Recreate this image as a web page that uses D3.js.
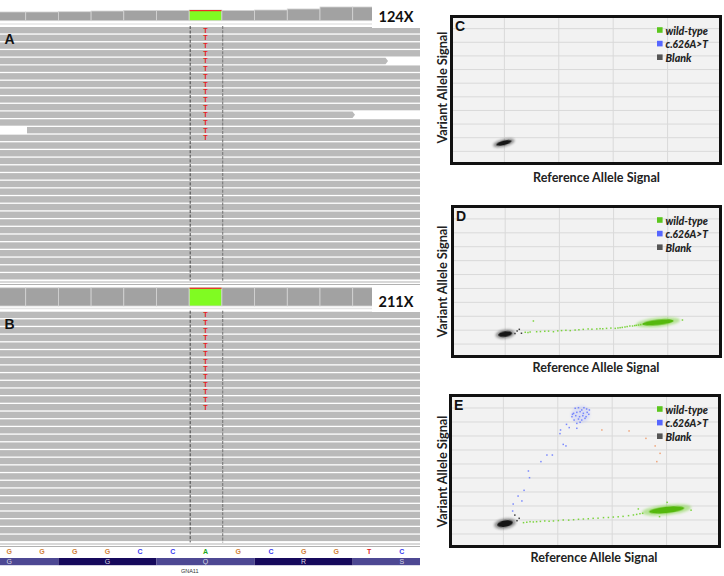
<!DOCTYPE html>
<html><head><meta charset="utf-8">
<script src="https://cdn.jsdelivr.net/npm/d3@7"></script>
<style>body{margin:0;background:#fff}svg{display:block}</style>
</head><body>
<svg id="c" width="724" height="576"></svg>
<script>
// ---------------- data ----------------
const bases = ["G","G","G","G","C","C","A","G","C","G","G","T","C"];
const aminoAcids = ["G","G","Q","R","S"];
const codonStarts = [-1,2,5,8,11];
const geneName = "GNA11";
const coverageA = [101,101,104,112,119,119,124,119,124,136,159,159,159];
const coverageB = [210,210,210,211,211,211,211,211,211,211,211,211,211];
const depthLabels = ["124X","211X"];
const igvLetters = ["A","B"];
const variantBase = 6;
const variantAllele = "T";
const variantRowsA = 15;
const variantRowsB = 13;
// reads: [start, end] in base units (-1 / 14 = beyond view)
const readsA = [[-1,14],[-1,14],[-1,14],[-1,14],[-1,12.08],[-1,14],[-1,14],[-1,14],[-1,14],[-1,14],[-1,14],
  [-1,11.07],[-1,14],[1.04,14],[-1,14],[-1,14],[-1,14],[-1,14],[-1,14],[-1,14],[-1,14],[-1,14],
  [-1,14],[-1,14],[-1,14],[-1,14],[-1,14],[-1,14],[-1,14],[-1,14],[-1,14],[-1,14],[-1,14]];
const readsB = [[-1,14],[-1,14],[-1,14],[-1,14],[-1,14],[-1,14],[-1,14],[-1,14],[-1,14],[-1,14],
  [-1,14],[-1,14],[-1,14],[-1,14],[-1,14],[-1,14],[-1,14],[-1,14],[-1,14],[-1,14],
  [-1,14],[-1,14],[-1,14],[-1,14],[-1,14],[-1,14],[-1,14],[-1,14],[-1,14],[-1,14]];

// scatter panels
const scatterLetters = ["C","D","E"];
const legendLabels = ["wild-type","c.626A>T","Blank"];
const xTicks = [1,2,3,4];
const yTicks = [1,2,3,4,5,6,7,8,9,10];
const xAxisTitle = "Reference Allele Signal";
const yAxisTitle = "Variant Allele Signal";
// clusters: [group, x, y, rx, ry, angle]
const clustersC = [["Blank",0.99,1.62,0.17,0.22,-14]];
const clustersD = [["Blank",1.0,1.72,0.15,0.26,-8],["wild-type",3.82,2.56,0.34,0.27,-6]];
const clustersE = [["Blank",1.03,1.74,0.17,0.3,-10],["wild-type",4.0,2.72,0.38,0.3,-6],["c.626A>T",2.42,9.55,0.15,0.5,-20]];
// individual points: [group, x, y]
const pointsD = [
 ["wild-type",1.37,1.85],["wild-type",1.42,1.83],["wild-type",1.46,1.87],["wild-type",1.58,1.89],["wild-type",1.65,1.9],
 ["wild-type",1.73,1.92],["wild-type",1.80,1.93],["wild-type",1.89,1.89],["wild-type",1.97,1.95],["wild-type",2.04,1.97],
 ["wild-type",2.12,1.99],["wild-type",2.20,1.97],["wild-type",2.29,2.01],["wild-type",2.36,2.03],["wild-type",2.44,2.06],
 ["wild-type",2.53,2.09],["wild-type",2.60,2.07],["wild-type",2.69,2.09],["wild-type",2.75,2.11],["wild-type",2.80,2.10],
 ["wild-type",2.87,2.13],["wild-type",2.95,2.15],["wild-type",3.03,2.13],["wild-type",3.08,2.16],["wild-type",3.12,2.18],
 ["wild-type",3.16,2.20],["wild-type",3.21,2.23],["wild-type",3.25,2.26],["wild-type",3.30,2.30],["wild-type",3.35,2.30],
 ["wild-type",3.39,2.33],["wild-type",3.42,2.35],["wild-type",3.46,2.37],["wild-type",3.50,2.40],["wild-type",3.55,2.42],
 ["wild-type",1.52,2.66],["wild-type",4.27,2.73],
 ["Blank",1.22,1.94],["Blank",1.26,2.06],["Blank",1.30,1.78],["Blank",1.18,1.76]
];
const pointsE = [
 ["wild-type",1.37,1.81],["wild-type",1.43,1.84],["wild-type",1.49,1.88],["wild-type",1.55,1.86],["wild-type",1.61,1.88],
 ["wild-type",1.68,1.90],["wild-type",1.76,1.93],["wild-type",1.84,1.91],["wild-type",1.92,1.93],["wild-type",2.01,1.96],
 ["wild-type",2.10,2.00],["wild-type",2.20,1.99],["wild-type",2.29,2.02],["wild-type",2.38,2.05],["wild-type",2.47,2.07],
 ["wild-type",2.56,2.09],["wild-type",2.65,2.12],["wild-type",2.74,2.13],["wild-type",2.84,2.17],["wild-type",2.93,2.18],
 ["wild-type",3.02,2.21],["wild-type",3.11,2.23],["wild-type",3.20,2.26],["wild-type",3.30,2.31],["wild-type",3.39,2.36],
 ["wild-type",3.45,2.40],["wild-type",3.51,2.45],["wild-type",3.56,2.48],["wild-type",3.48,2.79],["wild-type",4.01,3.26],
 ["wild-type",3.87,2.24],["wild-type",4.45,2.70],
 ["c.626A>T",1.17,2.64],["c.626A>T",1.18,3.14],["c.626A>T",1.34,3.36],["c.626A>T",1.27,3.71],["c.626A>T",1.38,4.12],
 ["c.626A>T",1.48,5.02],["c.626A>T",1.46,5.50],["c.626A>T",1.69,6.17],["c.626A>T",1.80,6.64],["c.626A>T",1.90,6.64],
 ["c.626A>T",2.10,7.40],["c.626A>T",2.15,7.29],["c.626A>T",2.04,8.17],["c.626A>T",2.05,8.43],["c.626A>T",2.16,8.83],
 ["c.626A>T",2.21,8.60],["c.626A>T",2.35,8.55],
 ["c.626A>T",2.32,9.98],["c.626A>T",2.38,10.02],["c.626A>T",2.48,10.02],["c.626A>T",2.53,9.93],["c.626A>T",2.58,9.86],
 ["c.626A>T",2.29,9.62],["c.626A>T",2.35,9.69],["c.626A>T",2.41,9.74],["c.626A>T",2.47,9.62],["c.626A>T",2.54,9.69],
 ["c.626A>T",2.26,9.38],["c.626A>T",2.33,9.45],["c.626A>T",2.40,9.38],["c.626A>T",2.46,9.45],["c.626A>T",2.52,9.38],
 ["c.626A>T",2.30,9.14],["c.626A>T",2.38,9.21],["c.626A>T",2.44,9.14],["c.626A>T",2.50,9.26],["c.626A>T",2.35,8.90],
 ["c.626A>T",2.41,8.98],["c.626A>T",2.27,9.55],["c.626A>T",2.57,9.55],["c.626A>T",2.44,9.86],
 ["other",2.81,8.43],["other",3.31,8.36],["other",3.62,7.83],["other",3.79,7.29],["other",3.88,6.76],["other",3.82,6.17],
 ["Blank",1.29,2.12],["Blank",1.25,1.95],["Blank",1.21,2.35]
];

// ---------------- styling ----------------
const baseColors = {G:"#d1813a", C:"#3a3af0", A:"#1fa81f", T:"#e02020"};
const groupColors = {"wild-type":"#6fd02a","c.626A>T":"#6476ff","Blank":"#2a2a2a","other":"#ee9a6a"};
const coreColors = {"wild-type":"#55b80c","c.626A>T":"#5a6bff","Blank":"#141414"};
const legendColors = {"wild-type":"#5cc61e","c.626A>T":"#5666ff","Blank":"#555555"};

const svg = d3.select("#c");
const defs = svg.append("defs");
defs.append("filter").attr("id","blur").attr("x","-50%").attr("y","-50%").attr("width","200%").attr("height","200%")
  .append("feGaussianBlur").attr("stdDeviation",0.7);
defs.append("filter").attr("id","blur2").attr("x","-50%").attr("y","-50%").attr("width","200%").attr("height","200%")
  .append("feGaussianBlur").attr("stdDeviation",1.3);
defs.append("clipPath").attr("id","leftclip").append("rect").attr("x",0).attr("y",0).attr("width",420).attr("height",576);

// ---------------- IGV panel ----------------
const xb = d3.scaleLinear().domain([0,13]).range([-7,418.1]);
const left = svg.append("g").attr("clip-path","url(#leftclip)");
const pitch = 7.69, readH = 6.4;

function igvBlock(cfg){
  const g = left.append("g");
  const cov = d3.scaleLinear().domain([0,cfg.covMax]).range([0,cfg.covH]);
  g.selectAll("rect.cov").data(cfg.coverage).join("rect")
    .attr("x",(d,i)=>xb(i)).attr("width",xb(1)-xb(0))
    .attr("y",d=>cfg.covBottom-cov(d)).attr("height",d=>cov(d))
    .attr("fill",(d,i)=>i===variantBase?"#80fb22":"#a2a2a2")
    .attr("stroke","#d4d4d4").attr("stroke-width",0.8);
  g.append("rect").attr("x",xb(variantBase)+0.4).attr("width",xb(1)-xb(0)-0.8)
    .attr("y",cfg.covBottom-cov(cfg.coverage[variantBase])).attr("height",1.2).attr("fill","#f02a2a");
  g.append("line").attr("x1",0).attr("x2",420).attr("y1",cfg.sepY).attr("y2",cfg.sepY)
    .attr("stroke","#e4e4e4").attr("stroke-width",1.5);
  cfg.reads.forEach((r,i)=>{
    const y = cfg.readTop + i*pitch;
    const x0 = Math.max(-2, xb(r[0])), x1 = Math.min(430, xb(r[1]));
    if (r[1] < 13.5) {
      g.append("path").attr("d",`M${x0},${y}H${x1-2.5}L${x1},${y+readH/2}L${x1-2.5},${y+readH}H${x0}Z`).attr("fill","#bababa");
    } else {
      g.append("rect").attr("x",x0).attr("y",y).attr("width",x1-x0).attr("height",readH).attr("fill","#bababa");
    }
  });
  const readBottom = cfg.readTop + cfg.reads.length*pitch;
  g.append("line").attr("x1",xb(variantBase)+1).attr("x2",xb(variantBase)+1)
    .attr("y1",cfg.readTop-1).attr("y2",readBottom).attr("stroke","#3a3a3a").attr("stroke-width",0.9).attr("stroke-dasharray","3,1.6");
  g.append("line").attr("x1",xb(variantBase+1)+0.8).attr("x2",xb(variantBase+1)+0.8)
    .attr("y1",cfg.readTop-1).attr("y2",readBottom).attr("stroke","#7a7a7a").attr("stroke-width",1.1).attr("stroke-dasharray","3,1.2");
  g.selectAll("text.var").data(d3.range(cfg.variantRows)).join("text")
    .attr("x",xb(variantBase+0.5)).attr("y",d=>cfg.readTop + d*pitch + readH/2)
    .attr("text-anchor","middle").attr("dominant-baseline","central")
    .attr("font-family","Liberation Sans, Arial, sans-serif").attr("font-weight","bold").attr("font-size",7.2)
    .attr("fill","#e8201e").text(variantAllele);
  g.append("rect").attr("x",372).attr("y",cfg.boxY0).attr("width",50).attr("height",cfg.boxH).attr("fill","#fff");
  g.append("text").attr("x",396).attr("y",cfg.labelY).attr("text-anchor","middle").attr("dominant-baseline","central")
    .attr("font-family","Lato, sans-serif").attr("font-weight","bold").attr("font-size",14.5).attr("fill","#111").text(cfg.depth);
  g.append("text").attr("x",4.5).attr("y",cfg.letterY).attr("dominant-baseline","central")
    .attr("font-family","Liberation Sans, Arial, sans-serif").attr("font-weight","bold").attr("font-size",14).attr("fill","#111").text(cfg.letter);
  return readBottom;
}

igvBlock({coverage:coverageA, covMax:124, covH:10.7, covBottom:20.7, sepY:24, reads:readsA, readTop:27,
  variantRows:variantRowsA, boxY0:0, boxH:28, labelY:16, depth:depthLabels[0], letter:igvLetters[0], letterY:39});
[282,284.5].forEach(y=>left.append("line").attr("x1",0).attr("x2",420).attr("y1",y).attr("y2",y).attr("stroke","#a8a8a8").attr("stroke-width",0.9));
igvBlock({coverage:coverageB, covMax:211, covH:18.3, covBottom:306, sepY:308.5, reads:readsB, readTop:311.7,
  variantRows:variantRowsB, boxY0:287, boxH:25, labelY:301, depth:depthLabels[1], letter:igvLetters[1], letterY:324});
[544,546.5].forEach(y=>left.append("line").attr("x1",0).attr("x2",420).attr("y1",y).attr("y2",y).attr("stroke","#a8a8a8").attr("stroke-width",0.9));

left.selectAll("text.base").data(bases).join("text")
  .attr("x",(d,i)=>xb(i+0.5)).attr("y",551.8).attr("text-anchor","middle").attr("dominant-baseline","central")
  .attr("font-family","Liberation Sans, Arial, sans-serif").attr("font-weight","bold").attr("font-size",7)
  .attr("fill",d=>baseColors[d]).text(d=>d);
left.selectAll("rect.aa").data(aminoAcids).join("rect")
  .attr("x",(d,i)=>xb(codonStarts[i])).attr("width",xb(3)-xb(0)).attr("y",558).attr("height",7.2)
  .attr("fill",(d,i)=>i%2===0?"#4d4893":"#16095c");
left.selectAll("text.aa").data(aminoAcids).join("text")
  .attr("x",(d,i)=>xb(codonStarts[i]+1.5)).attr("y",561.7).attr("text-anchor","middle").attr("dominant-baseline","central")
  .attr("font-family","Liberation Sans, Arial, sans-serif").attr("font-size",7).attr("fill","#d8d8e4").text(d=>d);
left.append("text").attr("x",xb(variantBase)+0.5).attr("y",571).attr("text-anchor","middle").attr("dominant-baseline","central")
  .attr("font-family","Liberation Sans, Arial, sans-serif").attr("font-size",5.5).attr("fill","#333").text(geneName);

// ---------------- scatter panels ----------------
const panelBoxes = [
  {x0:450,y0:15,x1:722,y1:165, xt:596.5, xty:176.7, yty:87.5, clusters:clustersC, points:[]},
  {x0:451,y0:205,x1:722,y1:358, xt:596, xty:367.3, yty:281.5, clusters:clustersD, points:pointsD},
  {x0:449,y0:394,x1:721,y1:548, xt:594, xty:556.7, yty:471.5, clusters:clustersE, points:pointsE}
];
panelBoxes.forEach((p,pi)=>{
  const g = svg.append("g");
  const x = d3.scaleLinear().domain([0,5]).range([p.x0,p.x1]);
  const y = d3.scaleLinear().domain([0,11]).range([p.y1,p.y0]);
  g.append("rect").attr("x",p.x0).attr("y",p.y0).attr("width",p.x1-p.x0).attr("height",p.y1-p.y0).attr("fill","#f2f2f2");
  g.selectAll("line.vx").data(xTicks).join("line").attr("x1",d=>x(d)).attr("x2",d=>x(d)).attr("y1",p.y0).attr("y2",p.y1)
    .attr("stroke","#d9d9d9").attr("stroke-width",1);
  g.selectAll("line.hy").data(yTicks).join("line").attr("x1",p.x0).attr("x2",p.x1).attr("y1",d=>y(d)).attr("y2",d=>y(d))
    .attr("stroke","#d9d9d9").attr("stroke-width",1);
  g.selectAll("rect.pt").data(p.points).join("rect")
    .attr("x",d=>x(d[1])-0.75).attr("y",d=>y(d[2])-0.75).attr("width",1.5).attr("height",1.5)
    .attr("fill",d=>groupColors[d[0]]).attr("opacity",d=>d[0]==="c.626A>T"?0.85:0.9);
  const kx = (x(1)-x(0)), ky = (y(0)-y(1));
  p.clusters.forEach(c=>{
    const cg = g.append("g").attr("transform",`translate(${x(c[1])},${y(c[2])}) rotate(${c[5]})`);
    const isMut = c[0]==="c.626A>T";
    cg.append("ellipse").attr("rx",c[3]*kx*1.2).attr("ry",c[4]*ky*1.25).attr("fill",groupColors[c[0]])
      .attr("opacity",isMut?0.15:0.45).attr("filter","url(#blur2)");
    if(!isMut) cg.append("ellipse").attr("rx",c[3]*kx*0.85).attr("ry",c[4]*ky*0.75).attr("fill",coreColors[c[0]])
      .attr("opacity",1).attr("filter","url(#blur)");
  });
  g.append("rect").attr("x",p.x0+1.5).attr("y",p.y0+1.5).attr("width",p.x1-p.x0-3).attr("height",p.y1-p.y0-3)
    .attr("fill","none").attr("stroke","#111").attr("stroke-width",3);
  g.append("text").attr("x",p.x0+5).attr("y",p.y0+11).attr("dominant-baseline","central")
    .attr("font-family","Liberation Sans, Arial, sans-serif").attr("font-weight","bold").attr("font-size",14).attr("fill","#111")
    .text(scatterLetters[pi]);
  legendLabels.forEach((l,li)=>{
    const ly = p.y0 + 15 + li*13.6;
    g.append("rect").attr("x",657).attr("y",ly-2.8).attr("width",5.6).attr("height",5.6).attr("fill",legendColors[l]);
    g.append("text").attr("x",665.5).attr("y",ly).attr("dominant-baseline","central")
      .attr("font-family","Lato, sans-serif").attr("font-weight","900").attr("font-style","italic").attr("font-size",10.8)
      .attr("fill","#222").attr("textLength",[42.5,42.5,26][li]).attr("lengthAdjust","spacingAndGlyphs").text(l);
  });
  g.append("text").attr("x",p.xt).attr("y",p.xty).attr("text-anchor","middle").attr("dominant-baseline","central")
    .attr("font-family","Lato, sans-serif").attr("font-weight","bold").attr("font-size",13.6).attr("fill","#222")
    .attr("textLength",127).attr("lengthAdjust","spacingAndGlyphs").text(xAxisTitle);
  g.append("text").attr("transform",`translate(441.5,${p.yty}) rotate(-90)`).attr("text-anchor","middle").attr("dominant-baseline","central")
    .attr("font-family","Lato, sans-serif").attr("font-weight","bold").attr("font-size",13.6).attr("fill","#222")
    .attr("textLength",112).attr("lengthAdjust","spacingAndGlyphs").text(yAxisTitle);
});
</script>
</body></html>
